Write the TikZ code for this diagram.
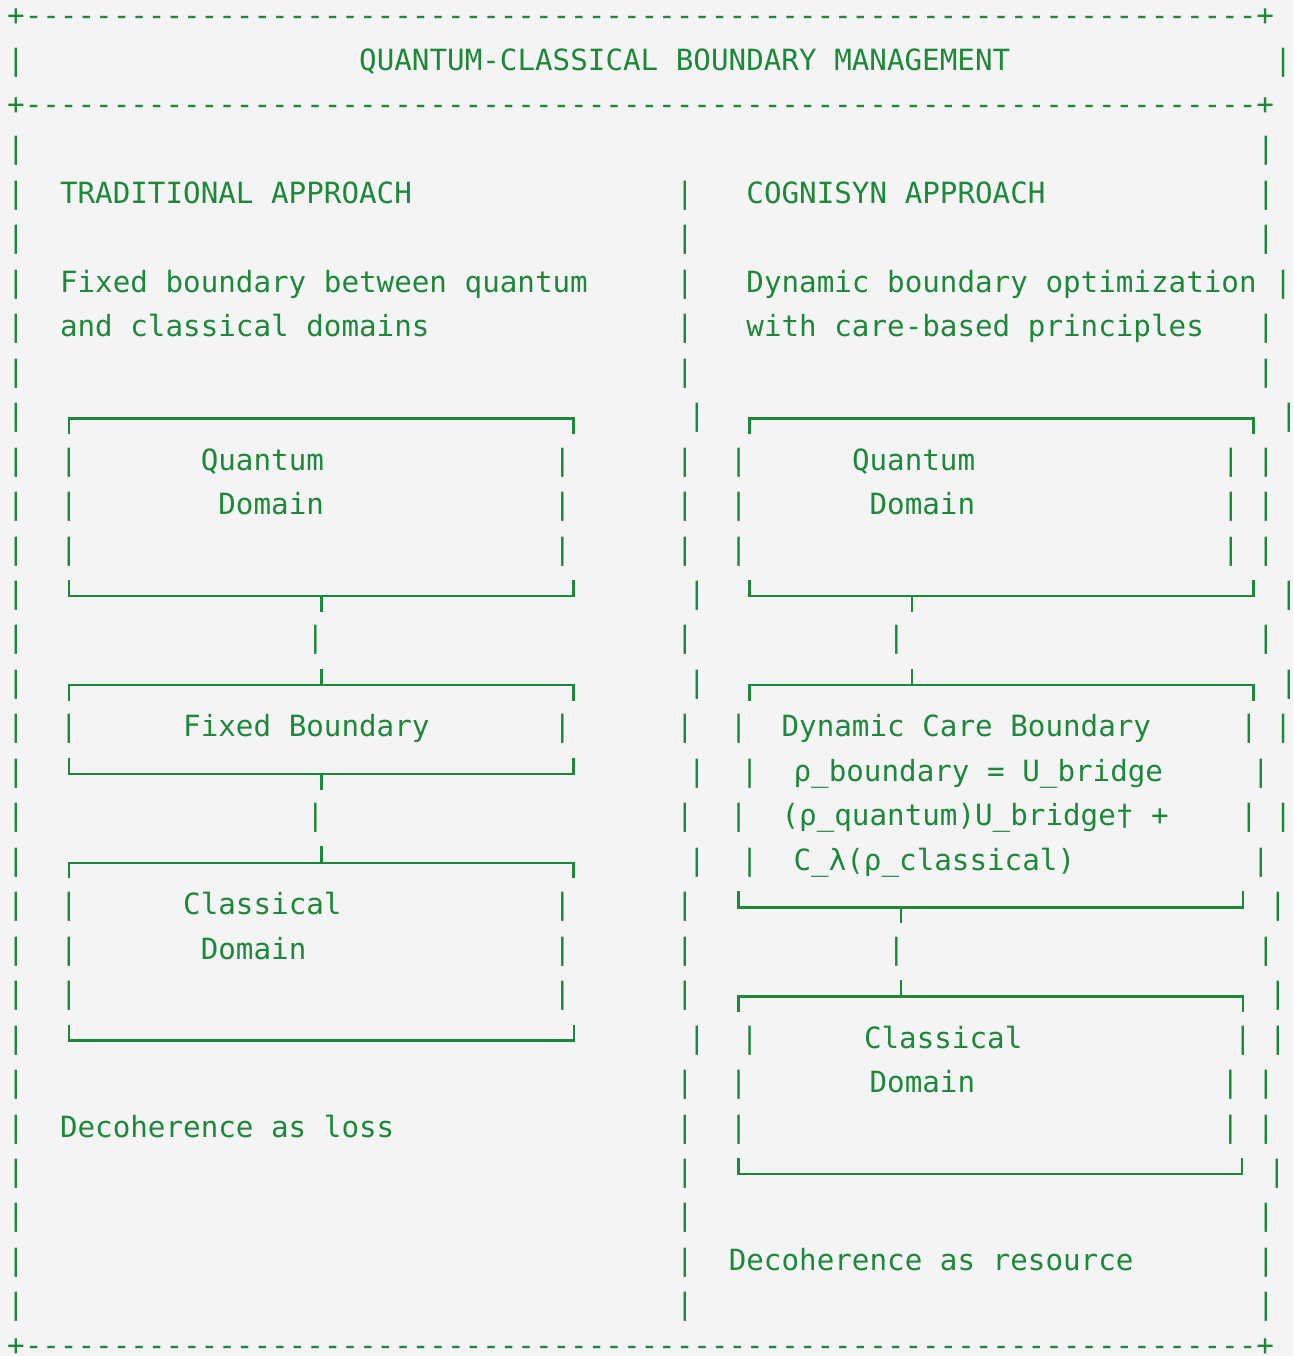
\documentclass[tikz,border=0pt]{standalone}
\usepackage{fontspec}
\newfontfamily\asciifont{DejaVu Sans Mono}[Ligatures=TeXOff]
\definecolor{term}{RGB}{30,136,58}
\definecolor{paper}{RGB}{244,244,244}

\begin{document}
\begin{tikzpicture}[x=0.75pt,y=-0.75pt,
  txt/.style={anchor=base west,inner sep=0pt,outer sep=0pt,text=term,
    font=\asciifont\fontsize{21.92pt}{26pt}\selectfont},
  bar/.style={anchor=base,inner sep=0pt,outer sep=0pt,text=term,
    font=\asciifont\fontsize{21.92pt}{26pt}\selectfont},
  rule/.style={draw=term,line width=1.95pt,line cap=butt,line join=miter}]

% page
\fill[paper] (0,0) rectangle (1293,1356);
\useasboundingbox (0,0) rectangle (1293,1356);

% baseline of text row r: 25.54 + 44.46 r
\def\ra{25.54}\def\rb{44.46}

% dashed frame rows
\node[txt] (border0) at (7.2,{\ra+\rb*0}) {+----------------------------------------------------------------------+};
\node[txt] (border2) at (7.2,{\ra+\rb*2}) {+----------------------------------------------------------------------+};
\node[txt,text depth=0pt] (border30) at (7.2,1355.5) {+----------------------------------------------------------------------+};

% vertical bars: x / row
\foreach \x/\r [count=\i] in {
  16/1,16/3,16/4,16/5,16/6,16/7,16/8,16/9,16/10,16/11,16/12,16/13,16/14,16/15,
  16/16,16/17,16/18,16/19,16/20,16/21,16/22,16/23,16/24,16/25,16/26,16/27,16/28,16/29,
  685/4,685/5,685/6,685/7,685/8,697/9,685/10,685/11,685/12,697/13,685/14,697/15,
  685/16,697/17,685/18,697/19,685/20,685/21,685/22,697/23,685/24,685/25,685/26,
  685/27,685/28,685/29,
  1283.2/1,1266/3,1266/4,1266/5,1283.2/6,1266/7,1266/8,1289/9,1266/10,1266/11,
  1266/12,1289/13,1266/14,1289/15,1283.2/16,1283.2/18,1278/20,1266/21,1278/22,
  1278/23,1266/24,1266/25,1277/26,1266/27,1266/28,1266/29,
  68.8/10,562.4/10,68.8/11,562.4/11,68.8/12,562.4/12,68.8/16,562.4/16,
  68.8/20,562.4/20,68.8/21,562.4/21,68.8/22,562.4/22,
  738.6/10,1231/10,738.6/11,1231/11,738.6/12,1231/12,
  738.6/16,1249/16,749.6/17,1261/17,738.6/18,1249/18,749.6/19,1261/19,
  749.6/23,1243/23,738.6/24,1230.4/24,738.6/25,1230.4/25,
  315.5/14,315.5/18,896.5/14,896.5/21}
  \node[bar] (bar\i) at (\x,{\ra+\rb*\r}) {\makebox[0pt][c]{|}};

% headings and captions
\node[txt] (title) at (359.2,{\ra+\rb*1}) {QUANTUM-CLASSICAL BOUNDARY MANAGEMENT};
\node[txt] (tradHead) at (60,{\ra+\rb*4}) {TRADITIONAL APPROACH};
\node[txt] (cogHead) at (746.4,{\ra+\rb*4}) {COGNISYN APPROACH};
\node[txt] (tradDesc1) at (60,{\ra+\rb*6}) {Fixed boundary between quantum};
\node[txt] (tradDesc2) at (60,{\ra+\rb*7}) {and classical domains};
\node[txt] (cogDesc1) at (746.4,{\ra+\rb*6}) {Dynamic boundary optimization};
\node[txt] (cogDesc2) at (746.4,{\ra+\rb*7}) {with care-based principles};
\node[txt] (tradNote) at (60,{\ra+\rb*25}) {Decoherence as loss};
\node[txt] (cogNote) at (728.8,{\ra+\rb*28}) {Decoherence as resource};

% box labels, left column
\node[txt] (qL1) at (200.8,{\ra+\rb*10}) {Quantum};
\node[txt] (qL2) at (218.4,{\ra+\rb*11}) {Domain};
\node[txt] (fL1) at (183.2,{\ra+\rb*16}) {Fixed Boundary};
\node[txt] (cL1) at (183.2,{\ra+\rb*20}) {Classical};
\node[txt] (cL2) at (200.8,{\ra+\rb*21}) {Domain};

% box labels, right column
\node[txt] (qR1) at (852,{\ra+\rb*10}) {Quantum};
\node[txt] (qR2) at (869.6,{\ra+\rb*11}) {Domain};
\node[txt] (dR1) at (781.6,{\ra+\rb*16}) {Dynamic Care Boundary};
\node[txt] (dR2) at (793.6,{\ra+\rb*17}) {ρ\_boundary = U\_bridge};
\node[txt] (dR3) at (781.6,{\ra+\rb*18}) {(ρ\_quantum)U\_bridge† +};
\node[txt] (dR4) at (793.6,{\ra+\rb*19}) {C\_λ(ρ\_classical)};
\node[txt] (cR1) at (864,{\ra+\rb*23}) {Classical};
\node[txt] (cR2) at (869.6,{\ra+\rb*24}) {Domain};

% box outlines: top edges hang their corners down, bottom edges raise them
\newcommand\asciiTop[3]{\draw[rule] (#1,#3+15.5) |- (#2,#3) -- (#2,#3+15.5);}
\newcommand\asciiBot[3]{\draw[rule] (#1,#3-16) |- (#2,#3) -- (#2,#3-16);}

% left column boxes
\asciiTop{68.9}{573.3}{418.3}  \asciiBot{68.9}{573.3}{596.1}
\asciiTop{68.9}{573.3}{685.0}  \asciiBot{68.9}{573.3}{773.9}
\asciiTop{68.9}{573.3}{862.9}  \asciiBot{68.9}{574.0}{1040.7}

% right column boxes
\asciiTop{749.6}{1253.5}{418.3} \asciiBot{749.6}{1253.5}{596.1}
\asciiTop{749.6}{1253.5}{685.0} \asciiBot{738.6}{1243.0}{907.3}
\asciiTop{738.6}{1243.0}{996.2} \asciiBot{738.2}{1242.0}{1174.1}

% junction ticks where the links leave and enter the boxes
\coordinate (qLout) at (321.5,596.1);  \coordinate (fLin) at (321.5,685.0);
\coordinate (fLout) at (321.5,773.9);  \coordinate (cLin) at (321.5,862.9);
\coordinate (qRout) at (912,596.1);    \coordinate (dRin) at (912,685.0);
\coordinate (dRout) at (901,907.3);    \coordinate (cRin) at (901,996.2);
\draw[rule] (qLout) -- ++(0,16);  \draw[rule] (fLin) -- ++(0,-16.5);
\draw[rule] (fLout) -- ++(0,16);  \draw[rule] (cLin) -- ++(0,-16.5);
\draw[rule] (qRout) -- ++(0,16);  \draw[rule] (dRin) -- ++(0,-16.5);
\draw[rule] (dRout) -- ++(0,16);  \draw[rule] (cRin) -- ++(0,-16.5);

\end{tikzpicture}
\end{document}
